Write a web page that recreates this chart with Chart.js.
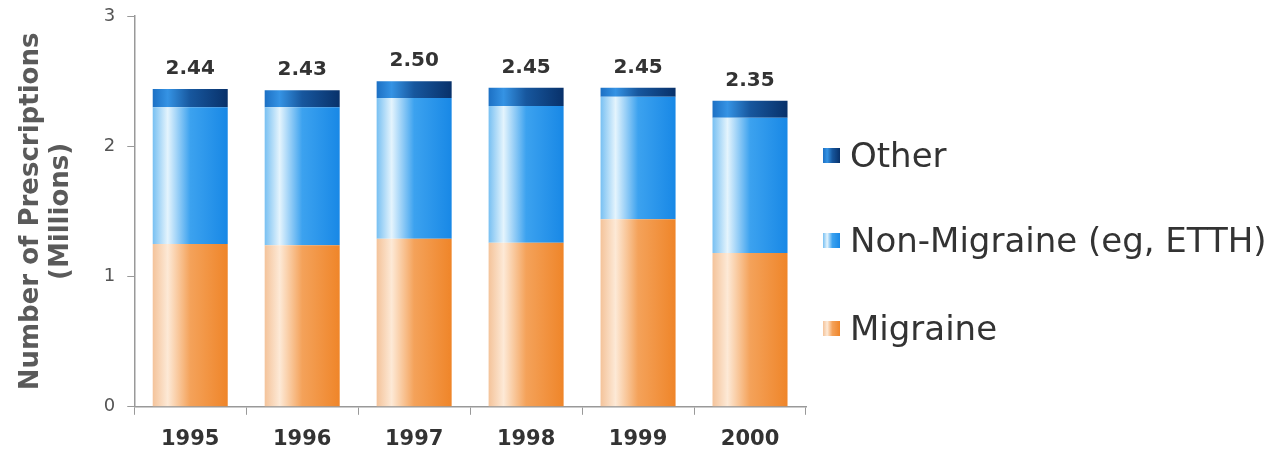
<!DOCTYPE html>
<html>
<head>
<meta charset="utf-8">
<script src="https://cdn.jsdelivr.net/npm/chart.js@4/dist/chart.umd.min.js"></script>
<style>
  html, body { margin: 0; padding: 0; background: #fff; }
  #wrap { width: 1288px; height: 452px; position: relative; }
  #legend { position: absolute; left: 823px; top: 0; margin: 0; padding: 0; list-style: none;
            font-family: 'DejaVu Sans'; font-size: 34px; color: #333; }
  #legend li { position: absolute; left: 0; white-space: nowrap; display: flex; align-items: center; }
  #legend .box { width: 17px; height: 15px; margin-right: 10px; }
</style>
</head>
<body>
<div id="wrap">
  <canvas id="rxChart"></canvas>
  <ul id="legend"></ul>
</div>
<script>
const years = ["1995", "1996", "1997", "1998", "1999", "2000"];
const migraine = [1.25, 1.24, 1.29, 1.26, 1.44, 1.18];
const nonMigraine = [1.05, 1.06, 1.08, 1.05, 0.94, 1.04];
const other = [0.14, 0.13, 0.13, 0.14, 0.07, 0.13];
const yTicks = [0, 1, 2, 3];

// left edge, highlight, body, right edge for each series
const shades = {
  migraine: ["#f4c39a", "#fde9d6", "#f4a25a", "#ef8529"],
  nonMigraine: ["#78c0f2", "#e4f4fd", "#3ca2ef", "#1888e6"],
  other: ["#1c70c4", "#3593e4", "#17579e", "#08316a"]
};

function barGradient(stops) {
  return function (context) {
    const chart = context.chart;
    const area = chart.chartArea;
    if (!area || context.type !== "data") return stops[2];
    const xScale = chart.scales.x;
    const cx = xScale.getPixelForValue(context.dataIndex);
    const half = (xScale.width / years.length) * 0.67 / 2;
    const g = chart.ctx.createLinearGradient(cx - half, 0, cx + half, 0);
    g.addColorStop(0, stops[0]);
    g.addColorStop(0.2, stops[1]);
    g.addColorStop(0.5, stops[2]);
    g.addColorStop(1, stops[3]);
    return g;
  };
}

// total of each stack printed above the bar
const totalLabels = {
  id: "totalLabels",
  afterDatasetsDraw(chart) {
    const ctx = chart.ctx;
    const xScale = chart.scales.x;
    const yScale = chart.scales.y;
    ctx.save();
    ctx.font = "bold 20px 'DejaVu Sans'";
    ctx.fillStyle = "#333";
    ctx.textAlign = "center";
    ctx.textBaseline = "bottom";
    years.forEach((y, i) => {
      const total = migraine[i] + nonMigraine[i] + other[i];
      const px = xScale.getPixelForValue(i);
      const py = yScale.getPixelForValue(total);
      ctx.fillText(total.toFixed(2), px, py - 10);
    });
    ctx.restore();
  }
};

const chart = new Chart(document.getElementById("rxChart"), {
  type: "bar",
  data: {
    labels: years,
    datasets: [
      { label: "Migraine", data: migraine, backgroundColor: barGradient(shades.migraine) },
      { label: "Non-Migraine (eg, ETTH)", data: nonMigraine, backgroundColor: barGradient(shades.nonMigraine) },
      { label: "Other", data: other, backgroundColor: barGradient(shades.other) }
    ]
  },
  options: {
    responsive: true,
    maintainAspectRatio: false,
    animation: false,
    categoryPercentage: 0.67,
    barPercentage: 1,
    layout: { padding: { top: 0, right: 482, left: 16, bottom: -12 } },
    plugins: {
      tooltip: { enabled: false },
      legend: { display: false }
    },
    scales: {
      x: {
        stacked: true,
        grid: {
          display: true,
          drawOnChartArea: false,
          offset: true,
          tickLength: 8,
          color: "#999"
        },
        border: { color: "#999", width: 1.5 },
        ticks: {
          color: "#333",
          padding: 12,
          font: { family: "'DejaVu Sans'", size: 21, weight: "bold" }
        }
      },
      y: {
        stacked: true,
        min: 0,
        max: 3,
        afterBuildTicks(axis) {
          axis.ticks = yTicks.map(v => ({ value: v }));
        },
        grid: {
          display: true,
          drawOnChartArea: false,
          tickLength: 7,
          color: "#999"
        },
        border: { color: "#999", width: 1.5 },
        ticks: {
          color: "#555",
          padding: 12,
          font: { family: "'DejaVu Sans'", size: 18, lineHeight: 0.45 }
        },
        title: {
          display: true,
          text: ["Number of Prescriptions", "(Millions)"],
          color: "#5a5a5a",
          padding: { top: 0, bottom: 16 },
          font: { family: "'DejaVu Sans'", size: 26, weight: "bold", lineHeight: 1.15 }
        }
      }
    }
  },
  plugins: [totalLabels]
});

// legend, top entry first, with the same sideways shading as the bars
const legendRows = [
  { label: "Other", stops: shades.other, y: 155 },
  { label: "Non-Migraine (eg, ETTH)", stops: shades.nonMigraine, y: 240 },
  { label: "Migraine", stops: shades.migraine, y: 328 }
];
const legendEl = document.getElementById("legend");
legendRows.forEach(row => {
  const li = document.createElement("li");
  li.style.top = (row.y - 20) + "px";
  li.style.height = "40px";
  const box = document.createElement("span");
  box.className = "box";
  box.style.background = "linear-gradient(to right, " + row.stops[0] + ", " + row.stops[1] + " 25%, " + row.stops[2] + " 55%, " + row.stops[3] + ")";
  li.appendChild(box);
  li.appendChild(document.createTextNode(row.label));
  legendEl.appendChild(li);
});
</script>
</body>
</html>
